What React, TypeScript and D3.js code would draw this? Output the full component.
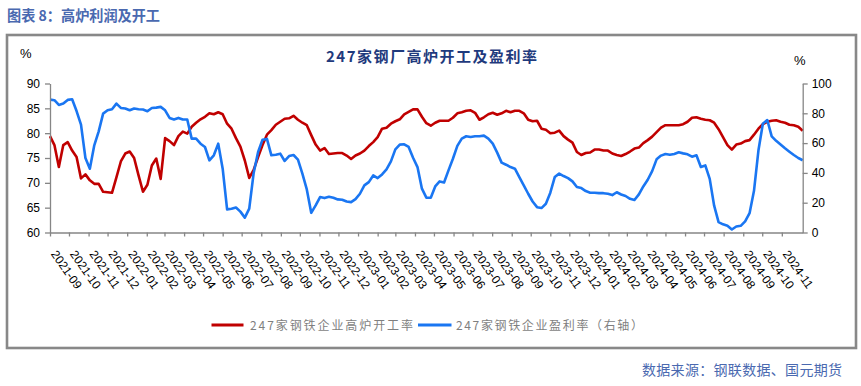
import React, { useEffect, useRef } from 'react';
import { axisBottom, axisLeft, axisRight, line, scaleLinear, scaleTime, select, timeDay, timeMonth } from 'd3';

// weekly series, first week 2021-09-03
const startDate = new Date(2021, 8, 3);

const monthLabels = [
  '2021-09', '2021-10', '2021-11', '2021-12',
  '2022-01', '2022-02', '2022-03', '2022-04', '2022-05', '2022-06',
  '2022-07', '2022-08', '2022-09', '2022-10', '2022-11', '2022-12',
  '2023-01', '2023-02', '2023-03', '2023-04', '2023-05', '2023-06',
  '2023-07', '2023-08', '2023-09', '2023-10', '2023-11', '2023-12',
  '2024-01', '2024-02', '2024-03', '2024-04', '2024-05', '2024-06',
  '2024-07', '2024-08', '2024-09', '2024-10', '2024-11',
];

// 247家钢铁企业高炉开工率 (%)
const opRate = [
  79.4, 77.6, 73.2, 77.6, 78.2, 76.5, 75.2, 70.9, 71.7, 70.5,
  69.8, 69.8, 68.2, 68.1, 68.0, 71.1, 74.3, 75.9, 76.3, 75.0,
  71.5, 68.2, 69.6, 73.5, 74.9, 70.8, 79.0, 78.4, 77.6, 79.4,
  80.3, 79.9, 81.3, 82.1, 82.8, 83.3, 84.0, 83.8, 84.2, 83.8,
  81.9, 80.9, 79.0, 77.3, 74.5, 71.0, 72.6, 75.2, 77.6, 79.7,
  80.6, 81.7, 82.3, 82.9, 83.0, 83.5, 82.7, 82.1, 81.6, 79.6,
  77.7, 76.5, 77.0, 75.8, 75.9, 76.0, 76.0, 75.5, 74.8, 75.5,
  75.9, 76.5, 77.4, 78.2, 79.2, 80.9, 81.1, 81.9, 82.4, 82.8,
  83.8, 84.3, 84.8, 84.8, 83.3, 82.0, 81.5, 82.1, 82.5, 82.5,
  82.5, 83.1, 84.0, 84.2, 84.5, 84.6, 84.1, 82.7, 83.2, 83.8,
  84.1, 83.7, 84.0, 84.5, 84.2, 84.5, 84.5, 84.0, 82.7, 82.4,
  82.5, 80.9, 80.7, 80.0, 80.1, 80.5, 79.4, 78.7, 78.1, 76.2,
  75.6, 76.0, 76.1, 76.7, 76.7, 76.5, 76.5, 75.9, 75.6, 75.4,
  75.8, 76.3, 76.9, 77.1, 78.0, 78.6, 79.3, 80.2, 81.1, 81.6,
  81.6, 81.6, 81.6, 81.8, 82.3, 83.1, 83.2, 82.9, 82.7, 82.6,
  82.1, 80.8, 79.2, 77.6, 76.7, 77.7, 77.9, 78.4, 78.6, 79.7,
  80.9, 81.8, 82.3, 82.5, 82.6, 82.3, 82.1, 81.7, 81.6, 81.3,
  80.5,
];

// 247家钢铁企业盈利率 (%, 右轴)
const profitRate = [
  89.2, 88.8, 85.6, 86.5, 89.0, 89.4, 81.5, 72.4, 50.0, 42.8,
  58.5, 67.9, 79.8, 82.0, 82.7, 86.5, 83.6, 83.2, 82.0, 83.2,
  82.7, 82.5, 81.4, 83.6, 83.8, 84.3, 82.0, 76.9, 75.8, 76.9,
  75.8, 75.8, 63.0, 63.0, 59.6, 57.4, 48.4, 51.8, 59.6, 42.8,
  15.5, 15.9, 16.8, 14.0, 10.0, 16.0, 40.0, 54.0, 62.3, 62.8,
  51.8, 52.2, 52.9, 48.0, 51.3, 52.0, 48.9, 39.5, 28.9, 13.2,
  18.2, 23.8, 23.1, 24.0, 23.3, 22.2, 22.0, 20.8, 20.4, 22.4,
  26.0, 31.6, 33.8, 38.3, 36.5, 39.0, 42.4, 47.7, 55.8, 59.0,
  59.2, 57.4, 50.2, 43.9, 29.4, 23.4, 23.3, 30.9, 34.3, 33.6,
  41.7, 49.5, 58.1, 63.0, 64.6, 64.1, 64.6, 64.6, 65.0, 63.0,
  59.6, 53.6, 46.9, 45.5, 43.9, 42.8, 37.2, 31.6, 26.0, 20.8,
  17.0, 16.4, 19.3, 26.7, 37.2, 39.5, 37.9, 36.5, 34.3, 30.5,
  29.8, 27.8, 26.7, 26.7, 26.4, 26.4, 26.0, 25.1, 27.0, 25.5,
  24.5, 22.6, 21.8, 25.6, 30.9, 35.4, 41.2, 49.1, 51.6, 52.7,
  52.2, 52.7, 53.8, 53.1, 52.5, 50.9, 51.8, 44.0, 45.0, 36.0,
  18.0, 7.0, 5.5, 4.5, 2.0, 4.0, 4.5, 7.5, 13.0, 28.0,
  55.0, 73.0, 75.5, 64.5, 61.5, 59.0, 56.5, 54.2, 52.0, 50.0,
  48.5,
];

const leftTicks = [60, 65, 70, 75, 80, 85, 90];
const rightTicks = [0, 20, 40, 60, 80, 100];

const latin = "'Liberation Sans', Arial, sans-serif";
const cjk = "'Noto Sans CJK SC', sans-serif";

export default function App() {
  const svgRef = useRef<SVGSVGElement>(null);

  const margin = { top: 83.5, left: 50, right: 802.7, bottom: 232.5 };

  useEffect(() => {
    const svg = select(svgRef.current);
    const dates = opRate.map((_, i) => timeDay.offset(startDate, i * 7));
    const tickDates = monthLabels.map((_, k) => timeMonth.offset(startDate, k));

    const x = scaleTime().domain([dates[0], dates[dates.length - 1]]).range([margin.left, margin.right]);
    const yL = scaleLinear().domain([60, 90]).range([margin.bottom, margin.top]);
    const yR = scaleLinear().domain([0, 100]).range([margin.bottom, margin.top]);

    const styleAxis = (g: any) => {
      g.selectAll('path, line').attr('stroke', '#868686').attr('stroke-width', 1.3);
      g.selectAll('text').attr('fill', '#000').style('font-family', latin).style('font-size', '12px');
    };

    svg.select<SVGGElement>('.x-axis')
      .attr('transform', `translate(0, ${margin.bottom})`)
      .call(axisBottom(x).tickValues(tickDates).tickSize(4).tickSizeOuter(0)
        .tickFormat((_d, i) => monthLabels[i]))
      .call(styleAxis)
      .call((g) => g.selectAll('text')
        .attr('x', 0).attr('y', 0).attr('dy', 0)
        .attr('text-anchor', 'start')
        .attr('transform', 'translate(0, 21.5) rotate(55)'));

    svg.select<SVGGElement>('.y-left')
      .attr('transform', `translate(${margin.left}, 0)`)
      .call(axisLeft(yL).tickValues(leftTicks).tickSize(5).tickPadding(5).tickSizeOuter(0))
      .call(styleAxis);

    svg.select<SVGGElement>('.y-right')
      .attr('transform', `translate(${margin.right}, 0)`)
      .call(axisRight(yR).tickValues(rightTicks).tickSize(5).tickPadding(4).tickSizeOuter(0))
      .call(styleAxis);

    const redLine = line<number>().x((_, i) => x(dates[i])).y((d) => yL(d));
    const blueLine = line<number>().x((_, i) => x(dates[i])).y((d) => yR(d));

    svg.select('.lines').selectAll('path')
      .data([
        { d: redLine(opRate), c: '#C00000' },
        { d: blueLine(profitRate), c: '#1A76F2' },
      ])
      .join('path')
      .attr('d', (s) => s.d)
      .attr('fill', 'none')
      .attr('stroke', (s) => s.c)
      .attr('stroke-width', 2.6)
      .attr('stroke-linejoin', 'round');
  }, []);

  return (
    <svg ref={svgRef} width={861} height={386}
      style={{ position: 'absolute', left: 0, top: 0, background: '#fff' }}>
      <text x={7} y={21} fill="#4A69B0" fontFamily={cjk} fontWeight="bold" fontSize={14.5}
        textLength={153} lengthAdjust="spacingAndGlyphs">
        图表 8：高炉利润及开工
      </text>
      <rect x={7} y={35} width={849} height={313} fill="#fff" stroke="#888" strokeWidth={2.6} />
      <text x={326} y={62} fill="#1F3A7D" fontFamily={cjk} fontWeight="bold" fontSize={15}
        textLength={211} lengthAdjust="spacing">
        247家钢厂高炉开工及盈利率
      </text>
      <text x={20} y={58} fontFamily={latin} fontSize={13}>%</text>
      <text x={794} y={65} fontFamily={latin} fontSize={13}>%</text>
      <g className="lines" />
      <g className="x-axis" />
      <g className="y-left" />
      <g className="y-right" />
      <g className="legend">
        <line x1={211.5} x2={243.5} y1={325} y2={325} stroke="#C00000" strokeWidth={3} />
        <text x={250} y={329.5} fill="#7F7F7F" fontFamily={cjk} fontSize={12}
          textLength={163} lengthAdjust="spacing">247家钢铁企业高炉开工率</text>
        <line x1={418} x2={451.5} y1={325} y2={325} stroke="#1A76F2" strokeWidth={3} />
        <text x={456} y={329.5} fill="#7F7F7F" fontFamily={cjk} fontSize={12}
          textLength={187} lengthAdjust="spacing">247家钢铁企业盈利率（右轴）</text>
      </g>
      <text x={642} y={375} fill="#4A69B0" fontFamily={cjk} fontSize={14}
        textLength={200} lengthAdjust="spacing">数据来源：钢联数据、国元期货</text>
    </svg>
  );
}
